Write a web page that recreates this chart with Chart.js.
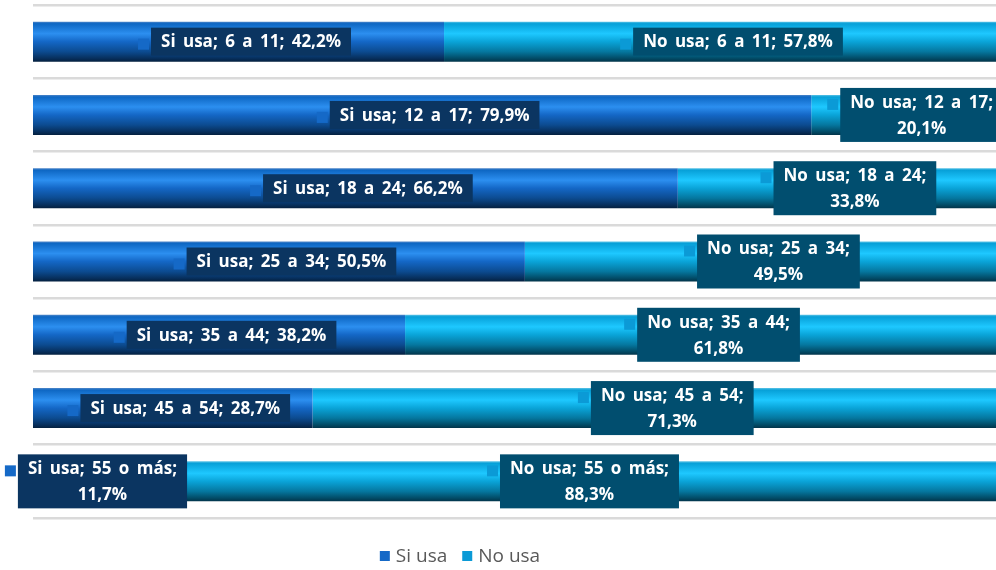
<!DOCTYPE html>
<html>
<head>
<meta charset="utf-8">
<script src="https://cdn.jsdelivr.net/npm/chart.js@4.4.0/dist/chart.umd.min.js"></script>
<style>
  html, body { margin: 0; padding: 0; background: #fff; overflow: hidden; }
  #wrap { position: relative; width: 1010px; height: 570px; }
</style>
</head>
<body>
<div id="wrap"><canvas id="chart"></canvas></div>
<script>
const ageGroups = ["6 a 11", "12 a 17", "18 a 24", "25 a 34", "35 a 44", "45 a 54", "55 o más"];
const siUsa = [42.2, 79.9, 66.2, 50.5, 38.2, 28.7, 11.7];
const noUsa = [57.8, 20.1, 33.8, 49.5, 61.8, 71.3, 88.3];
const seriesNames = ["Si usa", "No usa"];

// which labels break onto a second line
const siWrap = [false, false, false, false, false, false, true];
const noWrap = [false, true, true, true, true, true, true];

const palette = {
  si: {
    key: "#1569c7",
    box: "#0b3561",
    stops: [[0, "#4f86c8"], [0.05, "#0e67c3"], [0.3, "#2c8ff0"], [0.5, "#1467c6"], [0.75, "#0c4b90"], [0.92, "#072f5c"], [1, "#04203f"]]
  },
  no: {
    key: "#0b9ad6",
    box: "#014e6f",
    stops: [[0, "#5cc3e6"], [0.05, "#07a0d8"], [0.3, "#1ec8ff"], [0.5, "#0aa4d8"], [0.75, "#05779f"], [0.92, "#024b66"], [1, "#02344a"]]
  }
};

function barFill(stops, flat) {
  return (c) => {
    const chart = c.chart;
    const y = chart.scales.y;
    if (!y || c.dataIndex === undefined) return flat;
    const mid = y.getPixelForValue(c.dataIndex);
    const half = (y.height / ageGroups.length) * 0.546 / 2;
    if (!isFinite(mid) || !isFinite(half) || half <= 0) return flat;
    const g = chart.ctx.createLinearGradient(0, mid - half, 0, mid + half);
    stops.forEach(s => g.addColorStop(s[0], s[1]));
    return g;
  };
}

const barLabels = {
  id: "barLabels",
  afterDatasetsDraw(chart, args, opts) {
    const ctx = chart.ctx;
    ctx.save();
    ctx.font = "bold 17px 'Open Sans'";
    ctx.wordSpacing = "3px";
    ctx.textBaseline = "middle";
    ctx.textAlign = "center";
    chart.data.datasets.forEach((ds, di) => {
      const meta = chart.getDatasetMeta(di);
      meta.data.forEach((bar, i) => {
        const pct = ds.data[i].toFixed(1).replace(".", ",") + "%";
        const lines = ds.wrap[i]
          ? [ds.label + "; " + ageGroups[i] + ";", pct]
          : [ds.label + "; " + ageGroups[i] + "; " + pct];
        const textW = Math.max(...lines.map(l => ctx.measureText(l).width));
        const boxW = textW + opts.padX * 2;
        const boxH = lines.length * opts.lineH + opts.padY * 2;
        const groupW = opts.mark + opts.gap + boxW;
        const cx = (bar.x + bar.base) / 2 + opts.shift;
        const left = cx - groupW / 2;
        const boxX = left + opts.mark + opts.gap;
        const boxY = bar.y - boxH / 2;
        ctx.fillStyle = ds.keyColor;
        ctx.fillRect(left, boxY + 11, opts.mark, opts.mark);
        ctx.fillStyle = ds.boxColor;
        ctx.fillRect(boxX, boxY, boxW, boxH);
        ctx.fillStyle = "#ffffff";
        lines.forEach((l, k) => {
          ctx.fillText(l, boxX + boxW / 2, boxY + opts.padY + opts.lineH * (k + 0.5) + 1);
        });
      });
    });
    ctx.restore();
  }
};

const bottomLegend = {
  id: "bottomLegend",
  afterDraw(chart) {
    const ctx = chart.ctx;
    ctx.save();
    ctx.font = "19px 'Open Sans'";
    ctx.textBaseline = "middle";
    ctx.textAlign = "left";
    const items = chart.data.datasets.map(ds => ({ text: ds.label, color: ds.keyColor }));
    const box = 10, gap = 6, spacing = 15;
    const widths = items.map(it => box + gap + ctx.measureText(it.text).width);
    const total = widths.reduce((a, b) => a + b, 0) + spacing * (items.length - 1);
    let x = 460 - total / 2;
    const y = 557;
    items.forEach((it, k) => {
      ctx.fillStyle = it.color;
      ctx.fillRect(x, y - 6, box, box);
      ctx.fillStyle = "#595959";
      ctx.fillText(it.text, x + box + gap, y);
      x += widths[k] + spacing;
    });
    ctx.restore();
  }
};

new Chart(document.getElementById("chart"), {
  type: "bar",
  data: {
    labels: ageGroups,
    datasets: [
      {
        label: seriesNames[0],
        data: siUsa,
        wrap: siWrap,
        keyColor: palette.si.key,
        boxColor: palette.si.box,
        backgroundColor: barFill(palette.si.stops, "#1467c6"),
        borderWidth: 0,
        barPercentage: 0.546,
        categoryPercentage: 1
      },
      {
        label: seriesNames[1],
        data: noUsa,
        wrap: noWrap,
        keyColor: palette.no.key,
        boxColor: palette.no.box,
        backgroundColor: barFill(palette.no.stops, "#0aa4d8"),
        borderWidth: 0,
        barPercentage: 0.546,
        categoryPercentage: 1
      }
    ]
  },
  options: {
    indexAxis: "y",
    responsive: true,
    maintainAspectRatio: false,
    animation: false,
    layout: { padding: { left: 33, right: 3, top: 5, bottom: 52 } },
    plugins: {
      legend: { display: false },
      tooltip: { enabled: false },
      barLabels: { padX: 10, padY: 1, lineH: 26, mark: 11, gap: 2, shift: 6 }
    },
    scales: {
      x: { stacked: true, min: 0, max: 100, display: false },
      y: {
        stacked: true,
        ticks: { display: false, padding: 0 },
        border: { display: false },
        grid: { offset: true, drawTicks: false, tickLength: 0, color: "#dadada", lineWidth: 2.5 }
      }
    }
  },
  plugins: [barLabels, bottomLegend]
});
</script>
</body>
</html>
